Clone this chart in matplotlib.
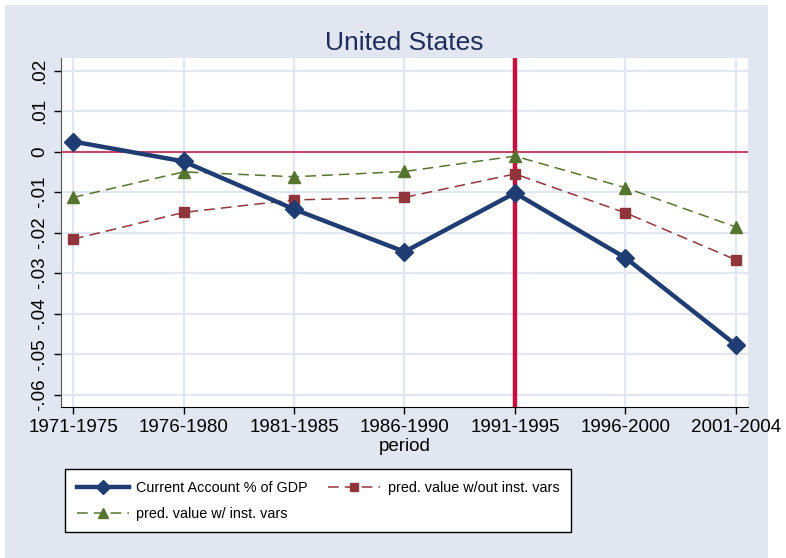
import matplotlib.pyplot as plt
import matplotlib.patches as mpatches
import numpy as np

plt.rcParams['font.family'] = ['Liberation Sans', 'DejaVu Sans']

periods = ["1971-1975", "1976-1980", "1981-1985", "1986-1990",
           "1991-1995", "1996-2000", "2001-2004"]
current_account = [0.0025, -0.0024, -0.0142, -0.0247, -0.0102, -0.0262, -0.0477]
pred_without_inst = [-0.0216, -0.0150, -0.0119, -0.0113, -0.0055, -0.0151, -0.0267]
pred_with_inst = [-0.0113, -0.0050, -0.0062, -0.0049, -0.0011, -0.0089, -0.0186]
y_ticks = [0.02, 0.01, 0, -0.01, -0.02, -0.03, -0.04, -0.05, -0.06]
y_tick_labels = [".02", ".01", "0", "-.01", "-.02", "-.03", "-.04", "-.05", "-.06"]

navy = "#1F3D73"
maroon = "#90353B"
green = "#55752F"
red = "#C8103C"
bg = "#E1E6F0"
grid = "#E1E6F0"

fig = plt.figure(figsize=(7.86, 5.58), dpi=100, facecolor="white")
fig.patches.append(mpatches.Rectangle((5 / 786, 0), 763 / 786, 553 / 558,
                                      transform=fig.transFigure,
                                      facecolor=bg, edgecolor="none", zorder=-10))

ax = fig.add_axes([61 / 786, 151 / 558, 687 / 786, 349 / 558])
ax.set_facecolor("white")

x = np.arange(1, len(periods) + 1)

ax.set_xlim(0.891, 7.109)
ax.set_ylim(-0.0630, 0.0231)
ax.set_xticks(x)
ax.set_xticklabels(periods, fontsize=13.5)
ax.set_yticks(y_ticks)
ax.set_yticklabels(y_tick_labels, fontsize=13.5, rotation=90, va="center")
ax.grid(True, color=grid, linewidth=1.6, zorder=0)
ax.set_axisbelow(True)

for s in ["top", "right"]:
    ax.spines[s].set_visible(False)
ax.spines["left"].set_color("#555555")
ax.spines["bottom"].set_color("black")
ax.tick_params(axis="both", direction="out", length=5, width=1, pad=4)

ax.axhline(0, color=red, linewidth=1.1, zorder=1)
ax.axvline(5, color=red, linewidth=3.2, zorder=1)

l1, = ax.plot(x, current_account, color=navy, linewidth=3.2, marker="D",
              markersize=9, label="Current Account % of GDP", zorder=5)
l3, = ax.plot(x, pred_with_inst, color=green, linewidth=1.1, linestyle=(0, (7, 4)),
              marker="^", markersize=9, label="pred. value w/ inst. vars", zorder=4)
l2, = ax.plot(x, pred_without_inst, color=maroon, linewidth=1.1, linestyle=(0, (7, 4)),
              marker="s", markersize=7.5, label="pred. value w/out inst. vars", zorder=4)

ax.set_xlabel("period", fontsize=13.5, labelpad=1)
ax.set_title("United States", fontsize=19, color="#1E2D5C", pad=6)

leg = fig.legend(handles=[l1, l3, l2], ncol=2, fontsize=10.4,
                 loc="upper left", bbox_to_anchor=(65 / 786, 1 - 469 / 558),
                 frameon=True, fancybox=False, edgecolor="black", framealpha=1,
                 handlelength=3.6, handletextpad=0.55, columnspacing=1.35,
                 borderpad=0.8, labelspacing=0.85, borderaxespad=0,
                 markerscale=0.75)
leg.get_frame().set_linewidth(1.0)

fig.savefig("out.png", dpi=100, facecolor=fig.get_facecolor())
